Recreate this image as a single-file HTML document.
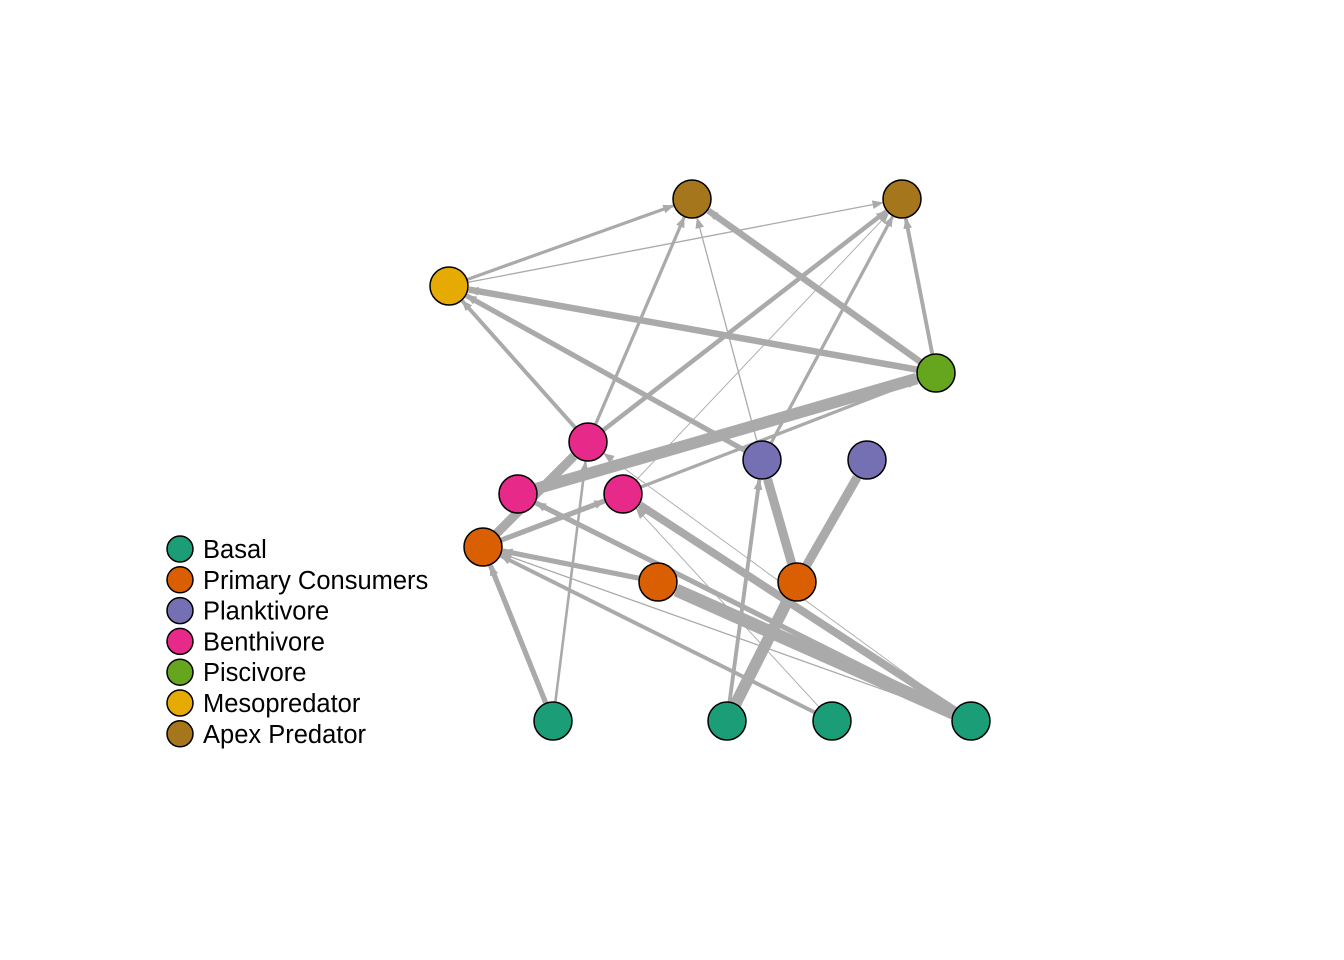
<!DOCTYPE html>
<html><head><meta charset="utf-8"><style>
body{margin:0;background:#fff;}
svg{display:block;font-family:"Liberation Sans",sans-serif;}
</style></head><body>
<svg id="g" width="1344" height="960" viewBox="0 0 1344 960">
<defs><marker id="ah" viewBox="0 0 10 10" refX="9" refY="5" markerWidth="11" markerHeight="11" markerUnits="userSpaceOnUse" orient="auto"><path d="M0,1 L10,5 L0,9 z" fill="#aaaaaa"/></marker></defs>
<g id="edges"></g>
<g id="nodes"></g>
<g id="legend"></g>
</svg>
<script>
const nodeIds=["A1","A2","M","P","B1","B2","B3","K1","K2","C1","C2","C3","S1","S2","S3","S4"];
const nodeX=[692,902,449,936,588,518,623,762,867,483,658,797,553,727,832,971];
const nodeY=[199,199,286,373,442,494,494,460,460,547,582,582,721,721,721,721];
const nodeGroup=[6,6,5,4,3,3,3,2,2,1,1,1,0,0,0,0];
const groupNames=["Basal","Primary Consumers","Planktivore","Benthivore","Piscivore","Mesopredator","Apex Predator"];
const groupColors=["#1b9e77","#d95f02","#7570b3","#e7298a","#66a61e","#e6ab02","#a6761d"];
const edgeFrom=["M","M","P","P","P","B1","B1","B1","K1","K1","K1","B3","B2","B3","C1","C1","C2","S1","S1","S2","S2","C3","C3","S3","S3","S4","S4","S4","S4","S4"];
const edgeTo=["A1","A2","A1","A2","M","M","A1","A2","A1","A2","M","A2","P","P","B3","B1","C1","C1","B1","K1","C3","K1","K2","C1","B3","C2","B3","C1","B2","B1"];
const edgeWidth=[2.5,1,5,3,5,3,2.5,3.5,1,2.5,4,0.7,9,2.5,4,7,4,4,2,3,9,7,7,3,0.7,10,6,1,4,0.7];
const NS="http://www.w3.org/2000/svg";
const R=19;
const eg=document.getElementById('edges'),ng=document.getElementById('nodes'),lg=document.getElementById('legend');
function idx(id){return nodeIds.indexOf(id);}
for(let i=0;i<edgeFrom.length;i++){
 const a=idx(edgeFrom[i]),b=idx(edgeTo[i]);
 const x1=nodeX[a],y1=nodeY[a],x2=nodeX[b],y2=nodeY[b];
 const d=Math.hypot(x2-x1,y2-y1),ux=(x2-x1)/d,uy=(y2-y1)/d;
 const l=document.createElementNS(NS,'line');
 l.setAttribute('x1',x1+ux*R);l.setAttribute('y1',y1+uy*R);
 l.setAttribute('x2',x2-ux*(R+1));l.setAttribute('y2',y2-uy*(R+1));
 l.setAttribute('stroke','#aaaaaa');l.setAttribute('stroke-width',edgeWidth[i]*1.3);
 l.setAttribute('marker-end','url(#ah)');
 
 
 eg.appendChild(l);
}
for(let i=0;i<nodeIds.length;i++){
 const c=document.createElementNS(NS,'circle');
 c.setAttribute('cx',nodeX[i]);c.setAttribute('cy',nodeY[i]);c.setAttribute('r',R);
 c.setAttribute('fill',groupColors[nodeGroup[i]]);c.setAttribute('stroke','#000');c.setAttribute('stroke-width',1.5);
 
 
 ng.appendChild(c);
}
for(let i=0;i<groupNames.length;i++){
 const y=549+i*30.8;
 const c=document.createElementNS(NS,'circle');
 c.setAttribute('cx',180);c.setAttribute('cy',y);c.setAttribute('r',13);
 c.setAttribute('fill',groupColors[i]);c.setAttribute('stroke','#000');c.setAttribute('stroke-width',1.5);
 
 
 lg.appendChild(c);
 const t=document.createElementNS(NS,'text');
 t.setAttribute('x',203);t.setAttribute('y',y+9);t.setAttribute('font-size',25.5);t.setAttribute('fill','#000');
 t.textContent=groupNames[i];
 
 
 lg.appendChild(t);
}
</script>
</body></html>
